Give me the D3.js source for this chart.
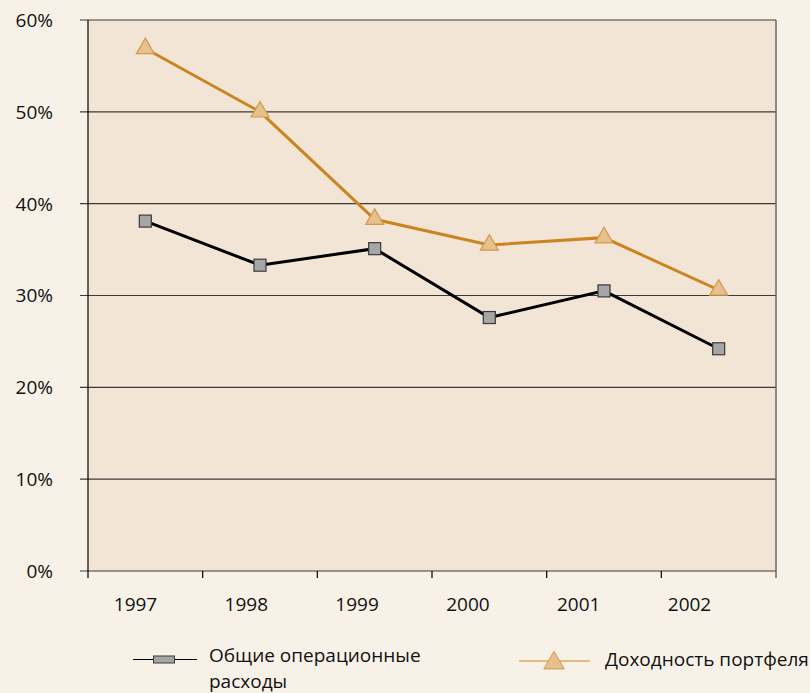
<!DOCTYPE html>
<html>
<head>
<meta charset="utf-8">
<script src="https://cdn.jsdelivr.net/npm/d3@7"></script>
<style>
  body { margin: 0; background: #f8f1e7; }
  svg { display: block; font-family: 'Open Sans', sans-serif; }
</style>
</head>
<body>
<div id="chart"></div>
<script>
const years = ['1997', '1998', '1999', '2000', '2001', '2002']
const expenses = [38.1, 33.3, 35.1, 27.6, 30.5, 24.2]     // Общие операционные расходы
const portfolio = [56.9, 50.0, 38.3, 35.5, 36.3, 30.6]   // Доходность портфеля
const yTicks = [0, 10, 20, 30, 40, 50, 60]

const cfg = {
    w: 810,
    h: 693,
    margin: { top: 20, right: 34, bottom: 122, left: 88 },
    fontSize: 19,
    plotBg: '#f2e5d5',
    orange: '#cc8420',
    triFill: '#e6c08e',
    triStroke: '#d4994a'
}

const svg = d3.select('#chart')
    .append('svg')
    .attr('width', cfg.w)
    .attr('height', cfg.h)

const g = svg.append('g')
    .attr('transform', `translate(${cfg.margin.left}, ${cfg.margin.top})`)

const width = cfg.w - cfg.margin.left - cfg.margin.right
const height = cfg.h - cfg.margin.top - cfg.margin.bottom

let x = d3.scaleBand()
    .domain(years)
    .range([0, width])

let y = d3.scaleLinear()
    .domain([0, 60])
    .range([height, 0])

// plot background
g.append('rect')
    .attr('width', width)
    .attr('height', height)
    .attr('fill', cfg.plotBg)

// gridlines + y ticks
g.selectAll('.grid')
    .data(yTicks).enter()
    .append('line')
    .attr('x1', -8)
    .attr('x2', width)
    .attr('y1', d => y(d))
    .attr('y2', d => y(d))
    .attr('stroke', '#3a3a3a')
    .attr('stroke-width', 1.2)

g.selectAll('.ylab')
    .data(yTicks).enter()
    .append('text')
    .attr('x', -35)
    .attr('y', d => y(d))
    .attr('dy', '0.36em')
    .attr('text-anchor', 'end')
    .attr('font-size', cfg.fontSize)
    .attr('fill', '#111')
    .text(d => `${d}%`)

// right border
g.append('line')
    .attr('x1', width).attr('x2', width)
    .attr('y1', 0).attr('y2', height + 7)
    .attr('stroke', '#6a6a6a')
    .attr('stroke-width', 1.5)

// left axis line
g.append('line')
    .attr('x1', 0).attr('x2', 0)
    .attr('y1', 0).attr('y2', height + 7)
    .attr('stroke', '#000')
    .attr('stroke-width', 1.2)

// x ticks at category boundaries
g.selectAll('.xtick')
    .data(years.slice(1)).enter()
    .append('line')
    .attr('x1', d => x(d)).attr('x2', d => x(d))
    .attr('y1', height).attr('y2', height + 7)
    .attr('stroke', '#000')
    .attr('stroke-width', 1.2)

// x labels (sit a bit left of the category centres, as in the source)
let xl = d3.scalePoint()
    .domain(years)
    .range([47.5, 601.5])

g.selectAll('.xlab')
    .data(years).enter()
    .append('text')
    .attr('x', d => xl(d))
    .attr('y', height + 40)
    .attr('text-anchor', 'middle')
    .attr('font-size', cfg.fontSize)
    .attr('fill', '#111')
    .text(d => d)

const cx = d => x(d) + x.bandwidth() / 2

let line = d3.line()
    .x((d, i) => cx(years[i]))
    .y(d => y(d))

g.append('path')
    .attr('fill', 'none')
    .attr('stroke', cfg.orange)
    .attr('stroke-width', 3)
    .attr('d', line(portfolio))

g.append('path')
    .attr('fill', 'none')
    .attr('stroke', '#000')
    .attr('stroke-width', 3)
    .attr('d', line(expenses))

const tri = d3.symbol().type(d3.symbolTriangle).size(140)

g.selectAll('.tri')
    .data(portfolio).enter()
    .append('path')
    .attr('transform', (d, i) => `translate(${cx(years[i])}, ${y(d)})`)
    .attr('d', tri)
    .attr('fill', cfg.triFill)
    .attr('stroke', cfg.triStroke)
    .attr('stroke-width', 1.2)

g.selectAll('.sq')
    .data(expenses).enter()
    .append('rect')
    .attr('x', (d, i) => cx(years[i]) - 6)
    .attr('y', d => y(d) - 6)
    .attr('width', 12)
    .attr('height', 12)
    .attr('fill', '#a6a6a6')
    .attr('stroke', '#3a3a3a')
    .attr('stroke-width', 1.2)

// legend
const leg = svg.append('g')

leg.append('line')
    .attr('x1', 133).attr('x2', 197)
    .attr('y1', 659.5).attr('y2', 659.5)
    .attr('stroke', '#000').attr('stroke-width', 1.2)
leg.append('rect')
    .attr('x', 153.5).attr('y', 656)
    .attr('width', 21).attr('height', 7)
    .attr('fill', '#a6a6a6').attr('stroke', '#3a3a3a')

leg.append('text')
    .attr('x', 209).attr('y', 662)
    .attr('font-size', cfg.fontSize).attr('fill', '#111')
    .text('Общие операционные')
leg.append('text')
    .attr('x', 209).attr('y', 688)
    .attr('font-size', cfg.fontSize).attr('fill', '#111')
    .text('расходы')

leg.append('line')
    .attr('x1', 519).attr('x2', 590)
    .attr('y1', 661).attr('y2', 661)
    .attr('stroke', cfg.orange).attr('stroke-width', 1.2)
leg.append('path')
    .attr('transform', 'translate(554, 663)')
    .attr('d', d3.symbol().type(d3.symbolTriangle).size(180))
    .attr('fill', cfg.triFill)
    .attr('stroke', cfg.triStroke)

leg.append('text')
    .attr('x', 605).attr('y', 666)
    .attr('font-size', cfg.fontSize).attr('fill', '#111')
    .text('Доходность портфеля')
</script>
</body>
</html>
